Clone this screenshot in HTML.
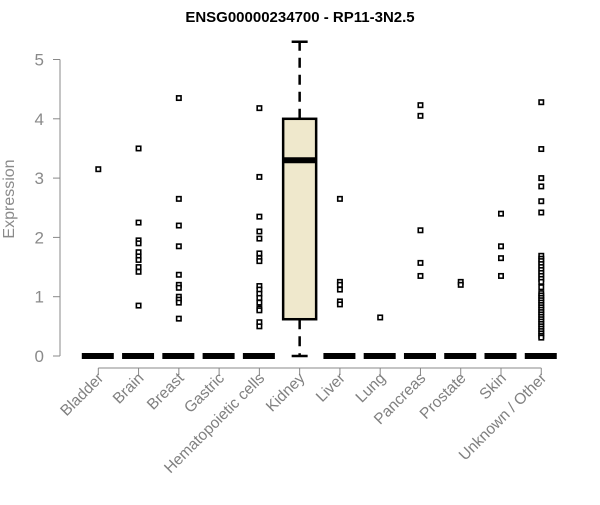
<!DOCTYPE html>
<html><head><meta charset="utf-8">
<style>
html,body{margin:0;padding:0;background:#fff;}
svg text{font-family:"Liberation Sans",Arial,sans-serif;}
</style></head>
<body>
<svg id="chart" width="600" height="500" xmlns="http://www.w3.org/2000/svg">
<text x="300" y="22" text-anchor="middle" font-size="15" font-weight="bold" fill="#000">ENSG00000234700 - RP11-3N2.5</text>
<text transform="translate(14,199) rotate(-90)" text-anchor="middle" font-size="16" fill="#8a8a8a">Expression</text>
<g id="axes"></g>
<g id="marks"></g>
</svg>
<script>
const categories = ["Bladder","Brain","Breast","Gastric","Hematopoietic cells","Kidney","Liver","Lung","Pancreas","Prostate","Skin","Unknown / Other"];
const q1 = [0,0,0,0,0,0.62,0,0,0,0,0,0];
const medians = [0,0,0,0,0,3.3,0,0,0,0,0,0];
const q3 = [0,0,0,0,0,4.0,0,0,0,0,0,0];
const whiskerLow = [0,0,0,0,0,0,0,0,0,0,0,0];
const whiskerHigh = [0,0,0,0,0,5.3,0,0,0,0,0,0];
const outliers = [
 [3.15],
 [3.5,2.25,1.95,1.9,1.75,1.68,1.62,1.5,1.42,0.85],
 [4.35,2.65,2.2,1.85,1.37,1.2,1.15,1.0,0.95,0.9,0.63],
 [],
 [4.18,3.02,2.35,2.1,1.98,1.73,1.65,1.6,1.18,1.12,1.05,0.98,0.9,0.8,0.77,0.57,0.5],
 [],
 [2.65,1.25,1.2,1.12,0.92,0.87],
 [0.65],
 [4.23,4.05,2.12,1.57,1.35],
 [1.25,1.2],
 [2.4,1.85,1.65,1.35],
 [4.28,3.49,3.0,2.86,2.61,2.42,1.69,1.64,1.6,1.55,1.5,1.45,1.4,1.35,1.3,1.25,1.16,1.06,1.02,0.98,0.94,0.9,0.86,0.82,0.78,0.74,0.7,0.66,0.62,0.58,0.54,0.5,0.46,0.42,0.38,0.34,0.31]
];
const yTicks = [0,1,2,3,4,5];

const NS="http://www.w3.org/2000/svg";
const x0=98.3, dx=40.27, yZero=356, yUnit=59.3;
function xPos(i){return x0+i*dx;}
function yPos(v){return yZero-v*yUnit;}
function mk(tag,attrs,parent){const e=document.createElementNS(NS,tag);for(const k in attrs)e.setAttribute(k,attrs[k]);parent.appendChild(e);return e;}
const axes=document.getElementById('axes'), marks=document.getElementById('marks');

let ya=mk('line',{x1:60,x2:60,y1:yPos(0),y2:yPos(5),stroke:'#888','stroke-width':1},axes);


yTicks.forEach(t=>{
  let tk=mk('line',{x1:53,x2:60,y1:yPos(t),y2:yPos(t),stroke:'#888','stroke-width':1},axes);
  
  
  let tl=mk('text',{x:44,y:yPos(t)+6,'text-anchor':'end','font-size':17,fill:'#8a8a8a'},axes);
  tl.textContent=t;
  
  
});
let xa=mk('line',{x1:xPos(0),x2:xPos(categories.length-1),y1:368,y2:368,stroke:'#888','stroke-width':1},axes);


categories.forEach((c,i)=>{
  let tk=mk('line',{x1:xPos(i),x2:xPos(i),y1:368,y2:375,stroke:'#888','stroke-width':1},axes);
  
  
  let tl=mk('text',{transform:`translate(${xPos(i)+6},${379}) rotate(-45)`,'text-anchor':'end','font-size':15.5,fill:'#808080'},axes);
  tl.textContent=c;
  
  
});
const bw=33;
categories.forEach((c,i)=>{
  const cx=xPos(i);
  const g=mk('g',{},marks);
  
  
  if(q3[i]>q1[i]){
    mk('line',{x1:cx,x2:cx,y1:yPos(q3[i]),y2:yPos(whiskerHigh[i]),stroke:'#000','stroke-width':2.5,'stroke-dasharray':'10,7'},g);
    mk('line',{x1:cx,x2:cx,y1:yPos(q1[i]),y2:yPos(whiskerLow[i]),stroke:'#000','stroke-width':2.5,'stroke-dasharray':'10,7'},g);
    mk('line',{x1:cx-8,x2:cx+8,y1:yPos(whiskerHigh[i]),y2:yPos(whiskerHigh[i]),stroke:'#000','stroke-width':2.5},g);
    mk('line',{x1:cx-8,x2:cx+8,y1:yPos(whiskerLow[i]),y2:yPos(whiskerLow[i]),stroke:'#000','stroke-width':2.5},g);
    mk('rect',{x:cx-bw/2,y:yPos(q3[i]),width:bw,height:yPos(q1[i])-yPos(q3[i]),fill:'#efe8cc',stroke:'#000','stroke-width':2.5},g);
  }
  mk('line',{x1:cx-bw/2,x2:cx+bw/2-1,y1:yPos(medians[i]),y2:yPos(medians[i]),stroke:'#000','stroke-width':6},g);
  outliers[i].forEach(v=>{
    const p=mk('rect',{x:cx-2.2,y:yPos(v)-2.2,width:4.4,height:4.4,fill:'#fff',stroke:'#000','stroke-width':1.6},g);
    
    
  });
});
</script>
</body></html>
